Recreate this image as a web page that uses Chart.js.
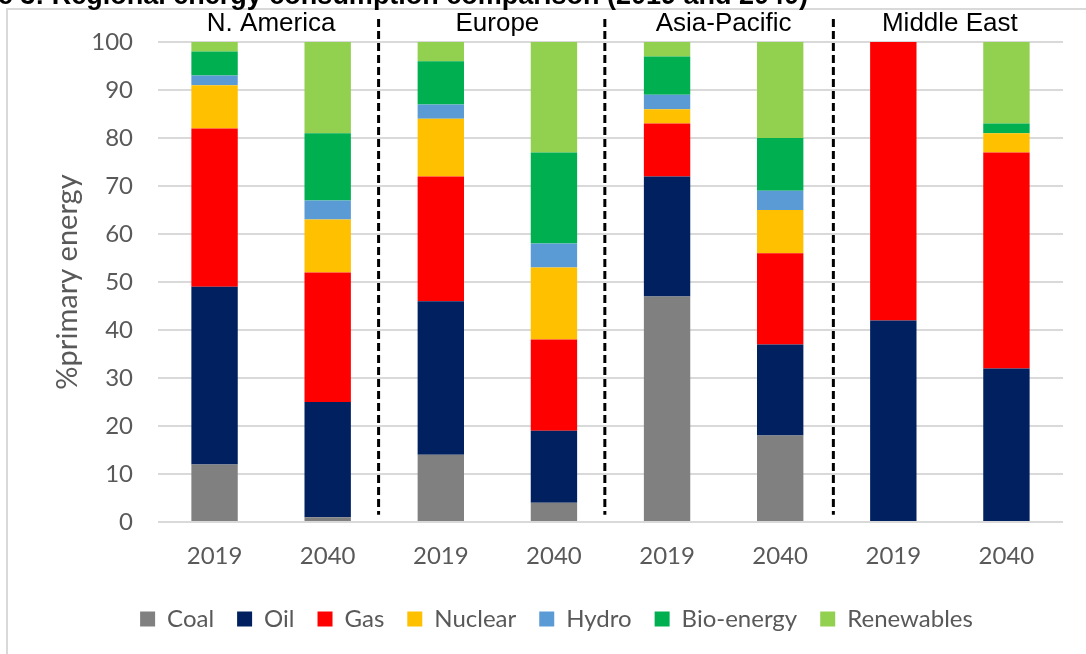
<!DOCTYPE html>
<html>
<head>
<meta charset="utf-8">
<title>Regional energy consumption comparison</title>
<script src="https://cdn.jsdelivr.net/npm/chart.js@4"></script>
<style>
  html, body { margin: 0; padding: 0; background: #fff; }
  #wrap { position: relative; width: 1086px; height: 654px; overflow: hidden; }
</style>
</head>
<body>
<div id="wrap"><canvas id="energy-chart" width="1086" height="654"></canvas></div>
<script>
// years per region, four regions side by side
const categories = ['2019', '2040', '2019', '2040', '2019', '2040', '2019', '2040'];
const regions = ['N. America', 'Europe', 'Asia-Pacific', 'Middle East'];

// % of primary energy
const coal       = [12,  1, 14,  4, 47, 18,  0,  0];
const oil        = [37, 24, 32, 15, 25, 19, 42, 32];
const gas        = [33, 27, 26, 19, 11, 19, 58, 45];
const nuclear    = [ 9, 11, 12, 15,  3,  9,  0,  4];
const hydro      = [ 2,  4,  3,  5,  3,  4,  0,  0];
const bioEnergy  = [ 5, 14,  9, 19,  8, 11,  0,  2];
const renewables = [ 2, 19,  4, 23,  3, 20,  0, 17];

const yTicks = [0, 10, 20, 30, 40, 50, 60, 70, 80, 90, 100];
// dashed region separators sit between the category pairs
const separatorAt = [1.45, 3.45, 5.47];

const titleText = 'Figure 3: Regional energy consumption comparison (2019 and 2040)';

const tickFont = { family: 'Lato, "Open Sans", sans-serif', size: 24 };
const tickColor = '#595959';

const decorations = {
    id: 'decorations',
    beforeDraw(chart) {
        const ctx = chart.ctx;
        ctx.save();
        ctx.fillStyle = '#fff';
        ctx.fillRect(0, 0, chart.width, chart.height);
        // outer chart frame
        ctx.strokeStyle = '#d9d9d9';
        ctx.lineWidth = 2;
        ctx.strokeRect(7, 9, chart.width + 50, chart.height + 50);
        ctx.restore();
    },
    afterDatasetsDraw(chart) {
        const ctx = chart.ctx;
        const x = chart.scales.x;
        const y = chart.scales.y;
        ctx.save();

        // dashed separators
        ctx.strokeStyle = '#000';
        ctx.lineWidth = 3;
        ctx.setLineDash([8, 4]);
        separatorAt.forEach(v => {
            const px = x.getPixelForValue(Math.floor(v)) + (v - Math.floor(v)) * (x.getPixelForValue(1) - x.getPixelForValue(0));
            ctx.beginPath();
            ctx.moveTo(px, y.getPixelForValue(104.8));
            ctx.lineTo(px, y.getPixelForValue(1.5));
            ctx.stroke();
        });
        ctx.setLineDash([]);

        // region names above each pair
        ctx.fillStyle = '#000';
        ctx.font = '26px "Liberation Sans", Arial, sans-serif';
        ctx.textAlign = 'center';
        ctx.textBaseline = 'alphabetic';
        regions.forEach((name, i) => {
            const px = (x.getPixelForValue(i * 2) + x.getPixelForValue(i * 2 + 1)) / 2;
            ctx.fillText(name, px, chart.chartArea.top - 11);
        });

        // figure caption, cut off by the top edge
        ctx.font = 'bold 27px "Liberation Sans", Arial, sans-serif';
        ctx.textAlign = 'right';
        ctx.fillText(titleText, 808, 4);
        ctx.restore();
    }
};

function makeSet(label, data, color) {
    return { label: label, data: data, backgroundColor: color, borderWidth: 0 };
}

const ctx = document.getElementById('energy-chart').getContext('2d');
new Chart(ctx, {
    type: 'bar',
    data: {
        labels: categories,
        datasets: [
            makeSet('Coal', coal, '#808080'),
            makeSet('Oil', oil, '#002060'),
            makeSet('Gas', gas, '#ff0000'),
            makeSet('Nuclear', nuclear, '#ffc000'),
            makeSet('Hydro', hydro, '#5b9bd5'),
            makeSet('Bio-energy', bioEnergy, '#00b050'),
            makeSet('Renewables', renewables, '#92d050')
        ]
    },
    options: {
        responsive: false,
        animation: false,
        datasets: { bar: { categoryPercentage: 1, barPercentage: 0.41 } },
        layout: { padding: { left: 50, top: 42, right: 23, bottom: 13 } },
        plugins: {
            legend: {
                position: 'bottom',
                labels: {
                    boxWidth: 15,
                    boxHeight: 15,
                    padding: 23,
                    color: tickColor,
                    font: tickFont
                }
            },
            tooltip: { enabled: false }
        },
        scales: {
            x: {
                stacked: true,
                grid: { display: false, drawTicks: false },
                border: { display: false },
                ticks: { color: tickColor, font: tickFont, padding: 20 },
                afterFit: s => { s.height = 62; }
            },
            y: {
                stacked: true,
                min: 0,
                max: 100,
                afterBuildTicks: s => { s.ticks = yTicks.map(v => ({ value: v })); },
                grid: { color: '#d9d9d9', lineWidth: 2, drawTicks: false },
                border: { display: false },
                ticks: { color: tickColor, font: tickFont, padding: 25 },
                title: {
                    display: true,
                    text: '%primary energy',
                    color: tickColor,
                    font: { family: tickFont.family, size: 29 },
                    padding: { top: 0, bottom: 0 }
                },
                afterFit: s => { s.width = 108; }
            }
        }
    },
    plugins: [decorations]
});
</script>
</body>
</html>
